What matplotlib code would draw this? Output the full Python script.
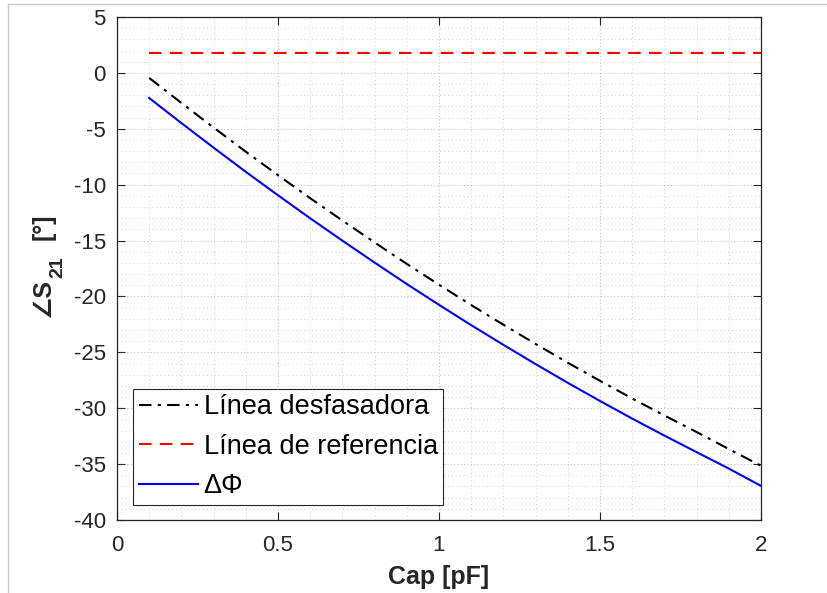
import matplotlib
matplotlib.use('Agg')
import matplotlib.pyplot as plt
from matplotlib.lines import Line2D
from matplotlib.ticker import MultipleLocator, FormatStrFormatter

plt.rcParams['font.family'] = ['Liberation Sans', 'DejaVu Sans']
plt.rcParams['mathtext.fontset'] = 'custom'
plt.rcParams['mathtext.rm'] = 'Liberation Sans'
plt.rcParams['mathtext.it'] = 'Liberation Sans:italic'
plt.rcParams['axes.unicode_minus'] = False

# Data
cap_pf = [0.1, 0.2, 0.3, 0.4, 0.5, 0.6, 0.7, 0.8, 0.9, 1.0,
          1.1, 1.2, 1.3, 1.4, 1.5, 1.6, 1.7, 1.8, 1.9, 2.0]
fase_desfasadora = [-0.45, -2.69, -4.89, -7.05, -9.15, -11.21, -13.21, -15.17, -17.09, -18.95,
                    -20.77, -22.53, -24.25, -25.93, -27.55, -29.13, -30.65, -32.13, -33.65, -35.15]
fase_referencia = [1.8] * len(cap_pf)
delta_phi = [-2.25, -4.49, -6.69, -8.85, -10.95, -13.01, -15.01, -16.97, -18.89, -20.75,
             -22.57, -24.33, -26.05, -27.73, -29.35, -30.93, -32.45, -33.93, -35.4, -36.95]
x_ticks = [0, 0.5, 1, 1.5, 2]
x_tick_labels = ['0', '0.5', '1', '1.5', '2']

text_color = '#262626'
W, H = 827, 593

fig = plt.figure(figsize=(8.27, 5.93), dpi=100)
ax = fig.add_axes([117 / W, 1 - 520 / H, 644 / W, 503 / H])

ax.plot(cap_pf, fase_desfasadora, color='black', linestyle=(0, (6, 3, 1.5, 3)), linewidth=1.5,
        label='Línea desfasadora')
ax.plot(cap_pf, fase_referencia, color='#ff0000', linestyle=(0, (6, 4)), linewidth=1.5,
        label='Línea de referencia')
ax.plot(cap_pf, delta_phi, color='#0000ff', linestyle='-', linewidth=1.5,
        label='ΔΦ')

ax.set_xlim(0, 2)
ax.set_ylim(-40, 5)
ax.set_xticks(x_ticks)
ax.set_xticklabels(x_tick_labels)
ax.yaxis.set_major_locator(MultipleLocator(5))
ax.yaxis.set_major_formatter(FormatStrFormatter('%d'))
ax.xaxis.set_minor_locator(MultipleLocator(0.1))
ax.yaxis.set_minor_locator(MultipleLocator(1))

ax.grid(True, which='major', linestyle=(0, (1, 2)), color='#c4c4c4', linewidth=0.8)
ax.grid(True, which='minor', linestyle=(0, (1, 3)), color='#d0d0d0', linewidth=0.7)
ax.set_axisbelow(True)

ax.tick_params(which='major', direction='in', top=True, right=True, length=6, width=0.8,
               colors=text_color, labelsize=16)
ax.tick_params(axis='x', which='major', pad=11)
ax.tick_params(axis='y', which='major', pad=8)
ax.tick_params(which='minor', length=0)
for s in ax.spines.values():
    s.set_color(text_color)
    s.set_linewidth(0.9)

ax.set_xlabel('Cap [pF]', fontsize=18, fontweight='bold', color=text_color, labelpad=6)

# y label built from pieces: angle sign + S, subscript 21, unit
lab_kw = dict(rotation=90, fontweight='bold', color=text_color,
              family=['Liberation Sans', 'DejaVu Sans'], ha='center', va='bottom')
t1 = fig.text(43 / W, 1 - 318 / H, '∠S', fontsize=18, **lab_kw)
fig.canvas.draw()
r = fig.canvas.get_renderer()
y_top = t1.get_window_extent(r).y1
t2 = fig.text(58 / W, (y_top + 1) / H, '21', fontsize=14, **lab_kw)
fig.canvas.draw()
y_top2 = t2.get_window_extent(r).y1
fig.text(44 / W, (y_top2 + 16) / H, '[°]', fontsize=18, **lab_kw)

leg = ax.legend(loc='lower left', bbox_to_anchor=(0.025, 0.03), borderaxespad=0,
                fontsize=19.5, frameon=True, fancybox=False, handlelength=2.2,
                handletextpad=0.2, labelspacing=0.5, borderpad=0.2)
leg.get_frame().set_edgecolor('#262626')
leg.get_frame().set_linewidth(0.8)
leg.get_frame().set_alpha(1)

# light screenshot frame at top and left
fig.add_artist(Line2D([8 / W, 1], [1 - 4 / H, 1 - 4 / H], color='#c8c8c8', linewidth=1))
fig.add_artist(Line2D([8 / W, 8 / W], [0, 1 - 4 / H], color='#c8c8c8', linewidth=1))

fig.savefig('out.png', dpi=100)
